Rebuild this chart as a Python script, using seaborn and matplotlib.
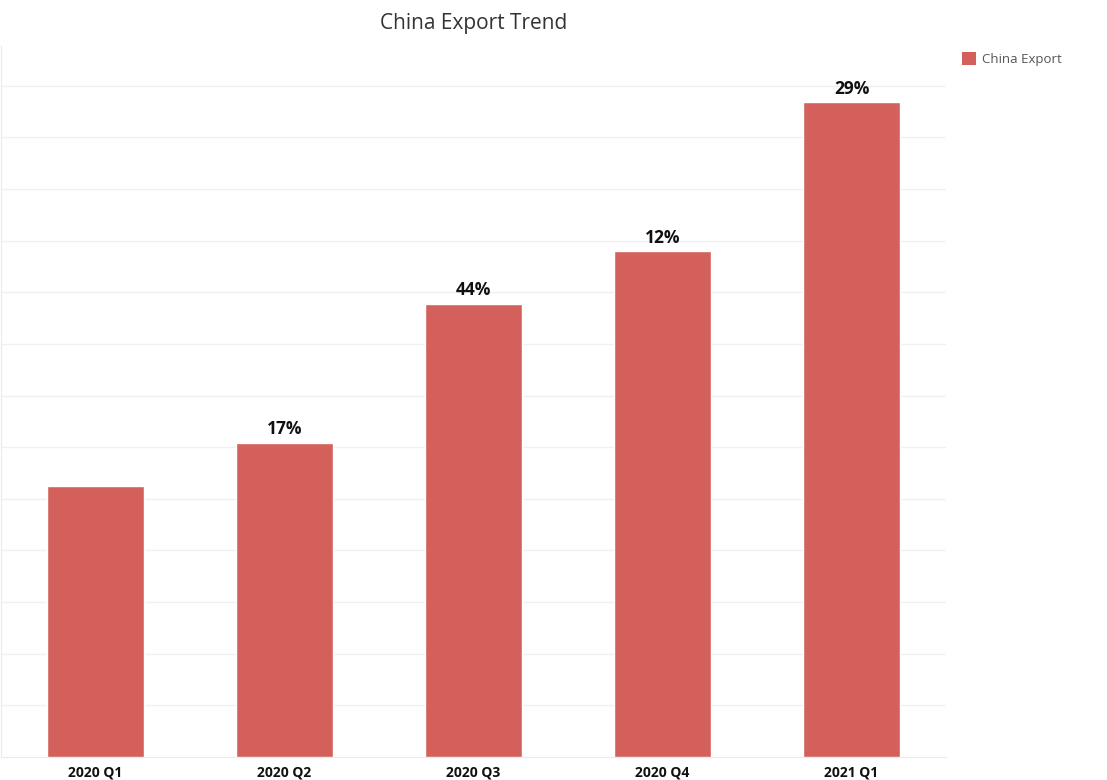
import numpy as np
import pandas as pd
import seaborn as sns
import matplotlib.pyplot as plt
from matplotlib.patches import Patch

# Data (relative export volume)
quarters = ["2020 Q1", "2020 Q2", "2020 Q3", "2020 Q4", "2021 Q1"]
exports = [524, 609, 878, 980, 1269]
growth = ["", "17%", "44%", "12%", "29%"]

df = pd.DataFrame({"quarter": quarters, "export": exports})

sns.set_style("white")
plt.rcParams['font.family'] = ['Open Sans', 'DejaVu Sans']

bar_color = "#D3605B"
grid_color = "#F0F0F0"

fig = plt.figure(figsize=(11.07, 7.8), dpi=100)
ax = fig.add_axes([1/1107, 1 - 757/780, 945/1107, (757 - 46)/780])

sns.barplot(data=df, x="quarter", y="export", color=bar_color,
            width=0.515, saturation=1, ax=ax, zorder=3)

ax.set_xlim(-0.5, 4.5)
ax.set_ylim(0, 1377)
ax.set_yticks(np.arange(100, 1377, 100))
ax.yaxis.grid(True, color=grid_color, linewidth=1, zorder=0)
ax.set_yticklabels([])
ax.tick_params(axis="y", length=0)
ax.set_xlabel("")
ax.set_ylabel("")

# category labels and small dividers
ax.tick_params(axis="x", length=0, pad=6)
for lab in ax.get_xticklabels():
    lab.set_fontweight("bold")
    lab.set_fontsize(10)
    lab.set_color("#111111")
ax.set_xticks(np.arange(0.5, 4.5, 1), minor=True)
ax.tick_params(axis="x", which="minor", length=5, color="#E6E6E6", width=1)

for side in ["top", "right"]:
    ax.spines[side].set_visible(False)
ax.spines["left"].set_color("#EBEBEB")
ax.spines["bottom"].set_color("#EBEBEB")

# growth labels
for i, (v, g) in enumerate(zip(exports, growth)):
    if g:
        ax.annotate(g, (i, v), xytext=(0, 3), textcoords="offset points",
                    ha="center", va="bottom", fontsize=12.5, fontweight="bold",
                    color="#111111")

fig.text(473.5/1107, 1 - 23/780, "China Export Trend", ha="center", va="center",
         fontsize=15, color="#333333")

handles = [Patch(facecolor=bar_color, edgecolor="none", label="China Export")]
leg = fig.legend(handles=handles, loc="upper left", bbox_to_anchor=(950/1107, 1 - 40/780),
                 frameon=False, fontsize=9.5, handlelength=1.1, handleheight=1.2,
                 handletextpad=0.45)
for t in leg.get_texts():
    t.set_color("#555555")

fig.savefig("out.png", dpi=100)
